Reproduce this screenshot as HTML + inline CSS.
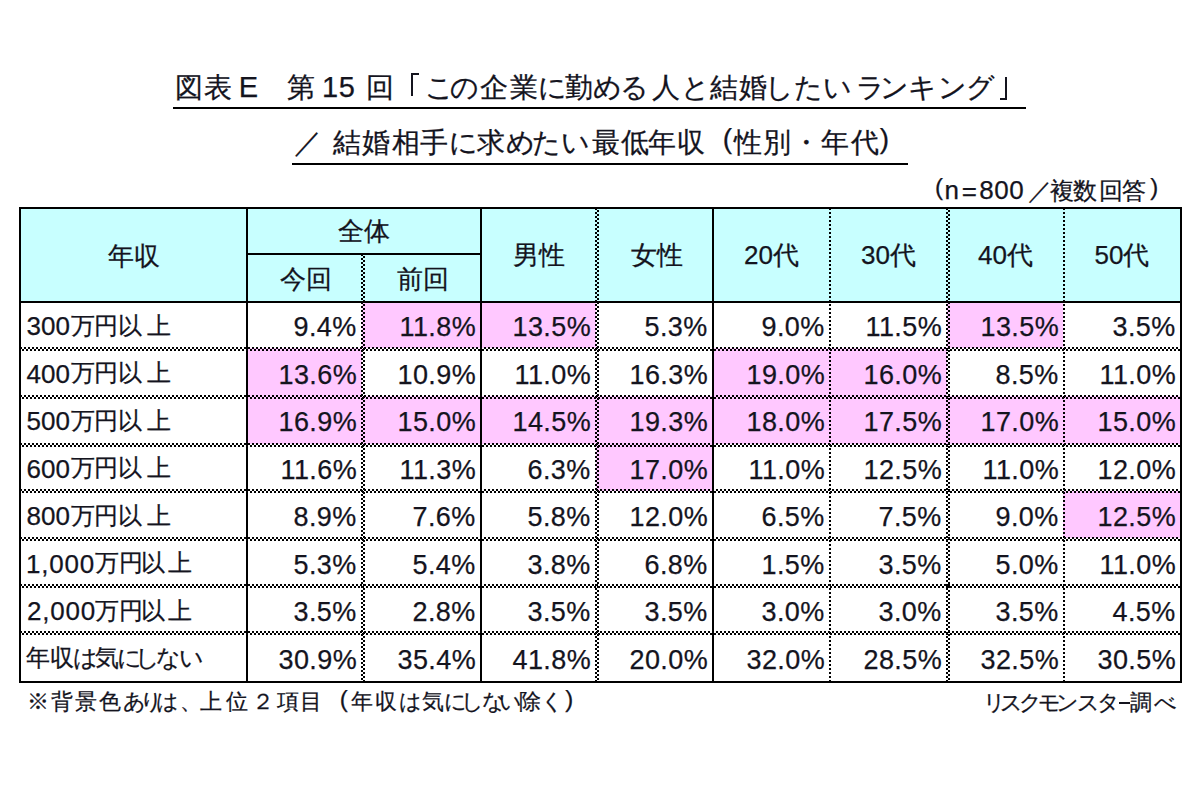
<!DOCTYPE html>
<html lang="ja"><head><meta charset="utf-8">
<style>
html,body{margin:0;padding:0;background:#fff;}
body{width:1199px;height:800px;position:relative;overflow:hidden;font-family:"Liberation Sans",sans-serif;color:#14141e;}
.b{position:absolute;}
.t{position:absolute;white-space:pre;line-height:1;-webkit-text-stroke:0.25px #14141e;}
</style></head><body>
<div class="b" style="left:19px;top:207px;width:1161px;height:94px;background:#c8ffff"></div>
<div class="b" style="left:362px;top:301px;width:118px;height:47px;background:#ffc8ff"></div>
<div class="b" style="left:480px;top:301px;width:116px;height:47px;background:#ffc8ff"></div>
<div class="b" style="left:947px;top:301px;width:116px;height:47px;background:#ffc8ff"></div>
<div class="b" style="left:246px;top:348px;width:116px;height:48px;background:#ffc8ff"></div>
<div class="b" style="left:712px;top:348px;width:117px;height:48px;background:#ffc8ff"></div>
<div class="b" style="left:829px;top:348px;width:118px;height:48px;background:#ffc8ff"></div>
<div class="b" style="left:246px;top:396px;width:116px;height:48px;background:#ffc8ff"></div>
<div class="b" style="left:362px;top:396px;width:118px;height:48px;background:#ffc8ff"></div>
<div class="b" style="left:480px;top:396px;width:116px;height:48px;background:#ffc8ff"></div>
<div class="b" style="left:596px;top:396px;width:116px;height:48px;background:#ffc8ff"></div>
<div class="b" style="left:712px;top:396px;width:117px;height:48px;background:#ffc8ff"></div>
<div class="b" style="left:829px;top:396px;width:118px;height:48px;background:#ffc8ff"></div>
<div class="b" style="left:947px;top:396px;width:116px;height:48px;background:#ffc8ff"></div>
<div class="b" style="left:1063px;top:396px;width:117px;height:48px;background:#ffc8ff"></div>
<div class="b" style="left:596px;top:444px;width:116px;height:47px;background:#ffc8ff"></div>
<div class="b" style="left:1063px;top:491px;width:117px;height:47px;background:#ffc8ff"></div>
<div class="b" style="left:19.5px;top:347px;width:1161px;height:4px;background:linear-gradient(90deg,#000 50%,transparent 50%) 0 0/4px 2px repeat-x,linear-gradient(90deg,transparent 50%,#000 50%) 0 2px/4px 2px repeat-x"></div>
<div class="b" style="left:19.5px;top:395px;width:1161px;height:4px;background:linear-gradient(90deg,#000 50%,transparent 50%) 0 0/4px 2px repeat-x,linear-gradient(90deg,transparent 50%,#000 50%) 0 2px/4px 2px repeat-x"></div>
<div class="b" style="left:19.5px;top:443px;width:1161px;height:4px;background:linear-gradient(90deg,#000 50%,transparent 50%) 0 0/4px 2px repeat-x,linear-gradient(90deg,transparent 50%,#000 50%) 0 2px/4px 2px repeat-x"></div>
<div class="b" style="left:19.5px;top:489px;width:1161px;height:4px;background:linear-gradient(90deg,#000 50%,transparent 50%) 0 0/4px 2px repeat-x,linear-gradient(90deg,transparent 50%,#000 50%) 0 2px/4px 2px repeat-x"></div>
<div class="b" style="left:19.5px;top:537px;width:1161px;height:4px;background:linear-gradient(90deg,#000 50%,transparent 50%) 0 0/4px 2px repeat-x,linear-gradient(90deg,transparent 50%,#000 50%) 0 2px/4px 2px repeat-x"></div>
<div class="b" style="left:19.5px;top:584px;width:1161px;height:4px;background:linear-gradient(90deg,#000 50%,transparent 50%) 0 0/4px 2px repeat-x,linear-gradient(90deg,transparent 50%,#000 50%) 0 2px/4px 2px repeat-x"></div>
<div class="b" style="left:19.5px;top:631px;width:1161px;height:4px;background:linear-gradient(90deg,#000 50%,transparent 50%) 0 0/4px 2px repeat-x,linear-gradient(90deg,transparent 50%,#000 50%) 0 2px/4px 2px repeat-x"></div>
<div class="b" style="left:246.5px;top:253px;width:234px;height:2px;background:#000"></div>
<div class="b" style="left:19.5px;top:301px;width:1161px;height:2px;background:#000"></div>
<div class="b" style="left:246px;top:207.5px;width:2px;height:474px;background:#000"></div>
<div class="b" style="left:480px;top:207.5px;width:2px;height:474px;background:#000"></div>
<div class="b" style="left:712px;top:207.5px;width:2px;height:474px;background:#000"></div>
<div class="b" style="left:361px;top:253.5px;width:4px;height:428px;background:linear-gradient(180deg,#000 50%,transparent 50%) 0 0/2px 4px repeat-y,linear-gradient(180deg,transparent 50%,#000 50%) 2px 0/2px 4px repeat-y"></div>
<div class="b" style="left:595px;top:207.5px;width:4px;height:474px;background:linear-gradient(180deg,#000 50%,transparent 50%) 0 0/2px 4px repeat-y,linear-gradient(180deg,transparent 50%,#000 50%) 2px 0/2px 4px repeat-y"></div>
<div class="b" style="left:829px;top:207.5px;width:2px;height:474px;background:linear-gradient(180deg,#000 50%,transparent 50%) 0 0/2px 4px repeat-y"></div>
<div class="b" style="left:946px;top:207.5px;width:4px;height:474px;background:linear-gradient(180deg,#000 50%,transparent 50%) 0 0/2px 4px repeat-y,linear-gradient(180deg,transparent 50%,#000 50%) 2px 0/2px 4px repeat-y"></div>
<div class="b" style="left:1063px;top:207.5px;width:2px;height:474px;background:linear-gradient(180deg,#000 50%,transparent 50%) 0 0/2px 4px repeat-y"></div>
<div class="b" style="left:18.5px;top:207px;width:1163px;height:2px;background:#000"></div>
<div class="b" style="left:18.5px;top:681px;width:1163px;height:2px;background:#000"></div>
<div class="b" style="left:19px;top:206.5px;width:2px;height:476px;background:#000"></div>
<div class="b" style="left:1180px;top:206.5px;width:2px;height:476px;background:#000"></div>
<div class="b" style="left:173px;top:107px;width:853px;height:2px;background:#000"></div>
<div class="b" style="left:292px;top:163px;width:616px;height:2px;background:#000"></div>
<div class="b" style="left:411px;top:73px;width:2px;height:23px;background:#14141e"></div>
<div class="b" style="left:411px;top:73px;width:7.5px;height:2px;background:#14141e"></div>
<div class="b" style="left:1005px;top:77px;width:2px;height:22.5px;background:#14141e"></div>
<div class="b" style="left:999.5px;top:97.5px;width:7.5px;height:2px;background:#14141e"></div>
<div class="b" style="left:1119px;top:701.5px;width:10.5px;height:2px;background:#14141e"></div>
<div class="t" style="left:175.3px;top:74.3px;font-size:28px">図</div>
<div class="t" style="left:203.9px;top:74.3px;font-size:28px">表</div>
<div class="t" style="left:238.7px;top:73.4px;font-size:29px">E</div>
<div class="t" style="left:286.9px;top:74.3px;font-size:28px">第</div>
<div class="t" style="left:322px;top:73.4px;font-size:29px">1</div>
<div class="t" style="left:338.7px;top:73.4px;font-size:29px">5</div>
<div class="t" style="left:365.5px;top:74.3px;font-size:28px">回</div>
<div class="t" style="left:424.5px;top:74.3px;font-size:28px">こ</div>
<div class="t" style="left:450px;top:74.3px;font-size:28px">の</div>
<div class="t" style="left:479.9px;top:74.3px;font-size:28px">企</div>
<div class="t" style="left:509.5px;top:74.3px;font-size:28px">業</div>
<div class="t" style="left:538.2px;top:74.3px;font-size:28px">に</div>
<div class="t" style="left:565.3px;top:74.3px;font-size:28px">勤</div>
<div class="t" style="left:592.9px;top:74.3px;font-size:28px">め</div>
<div class="t" style="left:620px;top:74.3px;font-size:28px">る</div>
<div class="t" style="left:652px;top:74.3px;font-size:28px">人</div>
<div class="t" style="left:681.1px;top:74.3px;font-size:28px">と</div>
<div class="t" style="left:709.8px;top:74.3px;font-size:28px">結</div>
<div class="t" style="left:739px;top:74.3px;font-size:28px">婚</div>
<div class="t" style="left:765.1px;top:74.3px;font-size:28px">し</div>
<div class="t" style="left:793.7px;top:74.3px;font-size:28px">た</div>
<div class="t" style="left:822.5px;top:74.3px;font-size:28px">い</div>
<div class="t" style="left:856px;top:74.3px;font-size:28px">ラ</div>
<div class="t" style="left:879.7px;top:74.3px;font-size:28px">ン</div>
<div class="t" style="left:908.3px;top:74.3px;font-size:28px">キ</div>
<div class="t" style="left:937.6px;top:74.3px;font-size:28px">ン</div>
<div class="t" style="left:965.8px;top:74.3px;font-size:28px">グ</div>
<div class="t" style="left:294.2px;top:128.8px;font-size:28px">／</div>
<div class="t" style="left:332.8px;top:128.8px;font-size:28px">結</div>
<div class="t" style="left:362px;top:128.8px;font-size:28px">婚</div>
<div class="t" style="left:391.5px;top:128.8px;font-size:28px">相</div>
<div class="t" style="left:419.9px;top:128.8px;font-size:28px">手</div>
<div class="t" style="left:448.5px;top:128.8px;font-size:28px">に</div>
<div class="t" style="left:476.6px;top:128.8px;font-size:28px">求</div>
<div class="t" style="left:505.9px;top:128.8px;font-size:28px">め</div>
<div class="t" style="left:532px;top:128.8px;font-size:28px">た</div>
<div class="t" style="left:561.3px;top:128.8px;font-size:28px">い</div>
<div class="t" style="left:591.5px;top:128.8px;font-size:28px">最</div>
<div class="t" style="left:620.6px;top:128.8px;font-size:28px">低</div>
<div class="t" style="left:648.3px;top:128.8px;font-size:28px">年</div>
<div class="t" style="left:676.5px;top:128.8px;font-size:28px">収</div>
<div class="t" style="left:722.7px;top:125.2px;font-size:28px">(</div>
<div class="t" style="left:734px;top:128.8px;font-size:28px">性</div>
<div class="t" style="left:762.6px;top:128.8px;font-size:28px">別</div>
<div class="t" style="left:791.9px;top:128.8px;font-size:28px">・</div>
<div class="t" style="left:820.5px;top:128.8px;font-size:28px">年</div>
<div class="t" style="left:850.7px;top:128.8px;font-size:28px">代</div>
<div class="t" style="left:879.7px;top:125.2px;font-size:28px">)</div>
<div class="t" style="left:934.9px;top:175px;font-size:24px">(</div>
<div class="t" style="left:944.4px;top:177.4px;font-size:26px">n</div>
<div class="t" style="left:961.8px;top:177.5px;font-size:26px">=</div>
<div class="t" style="left:979.3px;top:176.7px;font-size:26px">8</div>
<div class="t" style="left:994.2px;top:176.7px;font-size:26px">0</div>
<div class="t" style="left:1009.3px;top:176.7px;font-size:26px">0</div>
<div class="t" style="left:1027.5px;top:179.2px;font-size:24px">／</div>
<div class="t" style="left:1050px;top:179.2px;font-size:24px">複</div>
<div class="t" style="left:1073px;top:179.2px;font-size:24px">数</div>
<div class="t" style="left:1098.5px;top:179.2px;font-size:24px">回</div>
<div class="t" style="left:1122px;top:179.2px;font-size:24px">答</div>
<div class="t" style="left:1150.3px;top:175px;font-size:24px">)</div>
<div class="t" style="left:27.1px;top:692px;font-size:21.5px">※</div>
<div class="t" style="left:51px;top:692px;font-size:21.5px">背</div>
<div class="t" style="left:75px;top:692px;font-size:21.5px">景</div>
<div class="t" style="left:98.5px;top:692px;font-size:21.5px">色</div>
<div class="t" style="left:122.8px;top:692px;font-size:21.5px">あ</div>
<div class="t" style="left:139.5px;top:692px;font-size:21.5px">り</div>
<div class="t" style="left:155.8px;top:692px;font-size:21.5px">は</div>
<div class="t" style="left:180px;top:692px;font-size:21.5px">、</div>
<div class="t" style="left:200px;top:692px;font-size:21.5px">上</div>
<div class="t" style="left:225.5px;top:692px;font-size:21.5px">位</div>
<div class="t" style="left:251.5px;top:692px;font-size:21.5px">２</div>
<div class="t" style="left:277px;top:692px;font-size:21.5px">項</div>
<div class="t" style="left:299.5px;top:692px;font-size:21.5px">目</div>
<div class="t" style="left:339.8px;top:687.1px;font-size:24px">(</div>
<div class="t" style="left:350.8px;top:692px;font-size:21.5px">年</div>
<div class="t" style="left:374.5px;top:692px;font-size:21.5px">収</div>
<div class="t" style="left:398.8px;top:692px;font-size:21.5px">は</div>
<div class="t" style="left:422.2px;top:692px;font-size:21.5px">気</div>
<div class="t" style="left:444px;top:692px;font-size:21.5px">に</div>
<div class="t" style="left:461.2px;top:692px;font-size:21.5px">し</div>
<div class="t" style="left:481.5px;top:692px;font-size:21.5px">な</div>
<div class="t" style="left:499.2px;top:692px;font-size:21.5px">い</div>
<div class="t" style="left:519px;top:692px;font-size:21.5px">除</div>
<div class="t" style="left:541.2px;top:692px;font-size:21.5px">く</div>
<div class="t" style="left:565.2px;top:687.1px;font-size:24px">)</div>
<div class="t" style="left:982.9px;top:691.9px;font-size:22px">リ</div>
<div class="t" style="left:999.5px;top:691.9px;font-size:22px">ス</div>
<div class="t" style="left:1018.8px;top:691.9px;font-size:22px">ク</div>
<div class="t" style="left:1037.9px;top:691.9px;font-size:22px">モ</div>
<div class="t" style="left:1056.3px;top:691.9px;font-size:22px">ン</div>
<div class="t" style="left:1076.5px;top:691.9px;font-size:22px">ス</div>
<div class="t" style="left:1096.8px;top:691.9px;font-size:22px">タ</div>
<div class="t" style="left:1130.4px;top:691.9px;font-size:22px">調</div>
<div class="t" style="left:1153.5px;top:691.9px;font-size:22px">べ</div>
<div class="t" style="left:293.5px;top:314px;font-size:27px;letter-spacing:0.4px">9.4%</div>
<div class="t" style="left:399.5px;top:314px;font-size:27px;letter-spacing:0.4px">11.8%</div>
<div class="t" style="left:512.5px;top:314px;font-size:27px;letter-spacing:0.4px">13.5%</div>
<div class="t" style="left:644.5px;top:314px;font-size:27px;letter-spacing:0.4px">5.3%</div>
<div class="t" style="left:761.5px;top:314px;font-size:27px;letter-spacing:0.4px">9.0%</div>
<div class="t" style="left:865.5px;top:314px;font-size:27px;letter-spacing:0.4px">11.5%</div>
<div class="t" style="left:980.5px;top:314px;font-size:27px;letter-spacing:0.4px">13.5%</div>
<div class="t" style="left:1112.5px;top:314px;font-size:27px;letter-spacing:0.4px">3.5%</div>
<div class="t" style="left:278.5px;top:361.5px;font-size:27px;letter-spacing:0.4px">13.6%</div>
<div class="t" style="left:397.5px;top:361.5px;font-size:27px;letter-spacing:0.4px">10.9%</div>
<div class="t" style="left:514.5px;top:361.5px;font-size:27px;letter-spacing:0.4px">11.0%</div>
<div class="t" style="left:629.5px;top:361.5px;font-size:27px;letter-spacing:0.4px">16.3%</div>
<div class="t" style="left:746.5px;top:361.5px;font-size:27px;letter-spacing:0.4px">19.0%</div>
<div class="t" style="left:863.5px;top:361.5px;font-size:27px;letter-spacing:0.4px">16.0%</div>
<div class="t" style="left:995.5px;top:361.5px;font-size:27px;letter-spacing:0.4px">8.5%</div>
<div class="t" style="left:1099.5px;top:361.5px;font-size:27px;letter-spacing:0.4px">11.0%</div>
<div class="t" style="left:278.5px;top:409px;font-size:27px;letter-spacing:0.4px">16.9%</div>
<div class="t" style="left:397.5px;top:409px;font-size:27px;letter-spacing:0.4px">15.0%</div>
<div class="t" style="left:512.5px;top:409px;font-size:27px;letter-spacing:0.4px">14.5%</div>
<div class="t" style="left:629.5px;top:409px;font-size:27px;letter-spacing:0.4px">19.3%</div>
<div class="t" style="left:746.5px;top:409px;font-size:27px;letter-spacing:0.4px">18.0%</div>
<div class="t" style="left:863.5px;top:409px;font-size:27px;letter-spacing:0.4px">17.5%</div>
<div class="t" style="left:980.5px;top:409px;font-size:27px;letter-spacing:0.4px">17.0%</div>
<div class="t" style="left:1097.5px;top:409px;font-size:27px;letter-spacing:0.4px">15.0%</div>
<div class="t" style="left:280.5px;top:456.5px;font-size:27px;letter-spacing:0.4px">11.6%</div>
<div class="t" style="left:399.5px;top:456.5px;font-size:27px;letter-spacing:0.4px">11.3%</div>
<div class="t" style="left:527.5px;top:456.5px;font-size:27px;letter-spacing:0.4px">6.3%</div>
<div class="t" style="left:629.5px;top:456.5px;font-size:27px;letter-spacing:0.4px">17.0%</div>
<div class="t" style="left:748.5px;top:456.5px;font-size:27px;letter-spacing:0.4px">11.0%</div>
<div class="t" style="left:863.5px;top:456.5px;font-size:27px;letter-spacing:0.4px">12.5%</div>
<div class="t" style="left:982.5px;top:456.5px;font-size:27px;letter-spacing:0.4px">11.0%</div>
<div class="t" style="left:1097.5px;top:456.5px;font-size:27px;letter-spacing:0.4px">12.0%</div>
<div class="t" style="left:293.5px;top:504px;font-size:27px;letter-spacing:0.4px">8.9%</div>
<div class="t" style="left:412.5px;top:504px;font-size:27px;letter-spacing:0.4px">7.6%</div>
<div class="t" style="left:527.5px;top:504px;font-size:27px;letter-spacing:0.4px">5.8%</div>
<div class="t" style="left:629.5px;top:504px;font-size:27px;letter-spacing:0.4px">12.0%</div>
<div class="t" style="left:761.5px;top:504px;font-size:27px;letter-spacing:0.4px">6.5%</div>
<div class="t" style="left:878.5px;top:504px;font-size:27px;letter-spacing:0.4px">7.5%</div>
<div class="t" style="left:995.5px;top:504px;font-size:27px;letter-spacing:0.4px">9.0%</div>
<div class="t" style="left:1097.5px;top:504px;font-size:27px;letter-spacing:0.4px">12.5%</div>
<div class="t" style="left:293.5px;top:551.5px;font-size:27px;letter-spacing:0.4px">5.3%</div>
<div class="t" style="left:412.5px;top:551.5px;font-size:27px;letter-spacing:0.4px">5.4%</div>
<div class="t" style="left:527.5px;top:551.5px;font-size:27px;letter-spacing:0.4px">3.8%</div>
<div class="t" style="left:644.5px;top:551.5px;font-size:27px;letter-spacing:0.4px">6.8%</div>
<div class="t" style="left:761.5px;top:551.5px;font-size:27px;letter-spacing:0.4px">1.5%</div>
<div class="t" style="left:878.5px;top:551.5px;font-size:27px;letter-spacing:0.4px">3.5%</div>
<div class="t" style="left:995.5px;top:551.5px;font-size:27px;letter-spacing:0.4px">5.0%</div>
<div class="t" style="left:1099.5px;top:551.5px;font-size:27px;letter-spacing:0.4px">11.0%</div>
<div class="t" style="left:293.5px;top:599px;font-size:27px;letter-spacing:0.4px">3.5%</div>
<div class="t" style="left:412.5px;top:599px;font-size:27px;letter-spacing:0.4px">2.8%</div>
<div class="t" style="left:527.5px;top:599px;font-size:27px;letter-spacing:0.4px">3.5%</div>
<div class="t" style="left:644.5px;top:599px;font-size:27px;letter-spacing:0.4px">3.5%</div>
<div class="t" style="left:761.5px;top:599px;font-size:27px;letter-spacing:0.4px">3.0%</div>
<div class="t" style="left:878.5px;top:599px;font-size:27px;letter-spacing:0.4px">3.0%</div>
<div class="t" style="left:995.5px;top:599px;font-size:27px;letter-spacing:0.4px">3.5%</div>
<div class="t" style="left:1112.5px;top:599px;font-size:27px;letter-spacing:0.4px">4.5%</div>
<div class="t" style="left:278.5px;top:646.5px;font-size:27px;letter-spacing:0.4px">30.9%</div>
<div class="t" style="left:397.5px;top:646.5px;font-size:27px;letter-spacing:0.4px">35.4%</div>
<div class="t" style="left:512.5px;top:646.5px;font-size:27px;letter-spacing:0.4px">41.8%</div>
<div class="t" style="left:629.5px;top:646.5px;font-size:27px;letter-spacing:0.4px">20.0%</div>
<div class="t" style="left:746.5px;top:646.5px;font-size:27px;letter-spacing:0.4px">32.0%</div>
<div class="t" style="left:863.5px;top:646.5px;font-size:27px;letter-spacing:0.4px">28.5%</div>
<div class="t" style="left:980.5px;top:646.5px;font-size:27px;letter-spacing:0.4px">32.5%</div>
<div class="t" style="left:1097.5px;top:646.5px;font-size:27px;letter-spacing:0.4px">30.5%</div>
<div class="t" style="left:107.5px;top:243.3px;font-size:26px">年収</div>
<div class="t" style="left:337.5px;top:218px;font-size:26px">全体</div>
<div class="t" style="left:280.1px;top:266.2px;font-size:26px">今回</div>
<div class="t" style="left:396.5px;top:266.2px;font-size:26px">前回</div>
<div class="t" style="left:513.3px;top:242px;font-size:26px">男性</div>
<div class="t" style="left:631.2px;top:242px;font-size:26px">女性</div>
<div class="t" style="left:744px;top:242px;font-size:26px">20代</div>
<div class="t" style="left:861px;top:242px;font-size:26px">30代</div>
<div class="t" style="left:978px;top:242px;font-size:26px">40代</div>
<div class="t" style="left:1094.5px;top:242px;font-size:26px">50代</div>
<div class="t" style="left:26.5px;top:313px;font-size:26px;letter-spacing:0px">300</div>
<div class="t" style="left:70.8px;top:313.5px;font-size:24px;letter-spacing:0px">万</div>
<div class="t" style="left:94.45px;top:313.5px;font-size:24px;letter-spacing:0px">円</div>
<div class="t" style="left:118.45px;top:313.5px;font-size:24px;letter-spacing:0px">以</div>
<div class="t" style="left:147.05px;top:313.5px;font-size:24px;letter-spacing:0px">上</div>
<div class="t" style="left:26.5px;top:360.5px;font-size:26px;letter-spacing:0px">400</div>
<div class="t" style="left:70.8px;top:361px;font-size:24px;letter-spacing:0px">万</div>
<div class="t" style="left:94.45px;top:361px;font-size:24px;letter-spacing:0px">円</div>
<div class="t" style="left:118.45px;top:361px;font-size:24px;letter-spacing:0px">以</div>
<div class="t" style="left:147.05px;top:361px;font-size:24px;letter-spacing:0px">上</div>
<div class="t" style="left:26.5px;top:408px;font-size:26px;letter-spacing:0px">500</div>
<div class="t" style="left:70.8px;top:408.5px;font-size:24px;letter-spacing:0px">万</div>
<div class="t" style="left:94.45px;top:408.5px;font-size:24px;letter-spacing:0px">円</div>
<div class="t" style="left:118.45px;top:408.5px;font-size:24px;letter-spacing:0px">以</div>
<div class="t" style="left:147.05px;top:408.5px;font-size:24px;letter-spacing:0px">上</div>
<div class="t" style="left:26.5px;top:455.5px;font-size:26px;letter-spacing:0px">600</div>
<div class="t" style="left:70.8px;top:456px;font-size:24px;letter-spacing:0px">万</div>
<div class="t" style="left:94.45px;top:456px;font-size:24px;letter-spacing:0px">円</div>
<div class="t" style="left:118.45px;top:456px;font-size:24px;letter-spacing:0px">以</div>
<div class="t" style="left:147.05px;top:456px;font-size:24px;letter-spacing:0px">上</div>
<div class="t" style="left:26.5px;top:503px;font-size:26px;letter-spacing:0px">800</div>
<div class="t" style="left:70.8px;top:503.5px;font-size:24px;letter-spacing:0px">万</div>
<div class="t" style="left:94.45px;top:503.5px;font-size:24px;letter-spacing:0px">円</div>
<div class="t" style="left:118.45px;top:503.5px;font-size:24px;letter-spacing:0px">以</div>
<div class="t" style="left:147.05px;top:503.5px;font-size:24px;letter-spacing:0px">上</div>
<div class="t" style="left:25.9px;top:550.5px;font-size:26px;letter-spacing:0.8px">1,000</div>
<div class="t" style="left:95.15px;top:551px;font-size:24px;letter-spacing:0px">万</div>
<div class="t" style="left:118.8px;top:551px;font-size:24px;letter-spacing:0px">円</div>
<div class="t" style="left:141.45px;top:551px;font-size:24px;letter-spacing:0px">以</div>
<div class="t" style="left:168.3px;top:551px;font-size:24px;letter-spacing:0px">上</div>
<div class="t" style="left:26.9px;top:598px;font-size:26px;letter-spacing:0.8px">2,000</div>
<div class="t" style="left:95.15px;top:598.5px;font-size:24px;letter-spacing:0px">万</div>
<div class="t" style="left:118.8px;top:598.5px;font-size:24px;letter-spacing:0px">円</div>
<div class="t" style="left:141.45px;top:598.5px;font-size:24px;letter-spacing:0px">以</div>
<div class="t" style="left:168.3px;top:598.5px;font-size:24px;letter-spacing:0px">上</div>
<div class="t" style="left:26px;top:646px;font-size:24px;letter-spacing:0px">年</div>
<div class="t" style="left:49.5px;top:646px;font-size:24px;letter-spacing:0px">収</div>
<div class="t" style="left:72.8px;top:646px;font-size:24px;letter-spacing:0px">は</div>
<div class="t" style="left:94.7px;top:646px;font-size:24px;letter-spacing:0px">気</div>
<div class="t" style="left:117px;top:646px;font-size:24px;letter-spacing:0px">に</div>
<div class="t" style="left:135.3px;top:646px;font-size:24px;letter-spacing:0px">し</div>
<div class="t" style="left:155.95px;top:646px;font-size:24px;letter-spacing:0px">な</div>
<div class="t" style="left:179.05px;top:646px;font-size:24px;letter-spacing:0px">い</div>
</body></html>
